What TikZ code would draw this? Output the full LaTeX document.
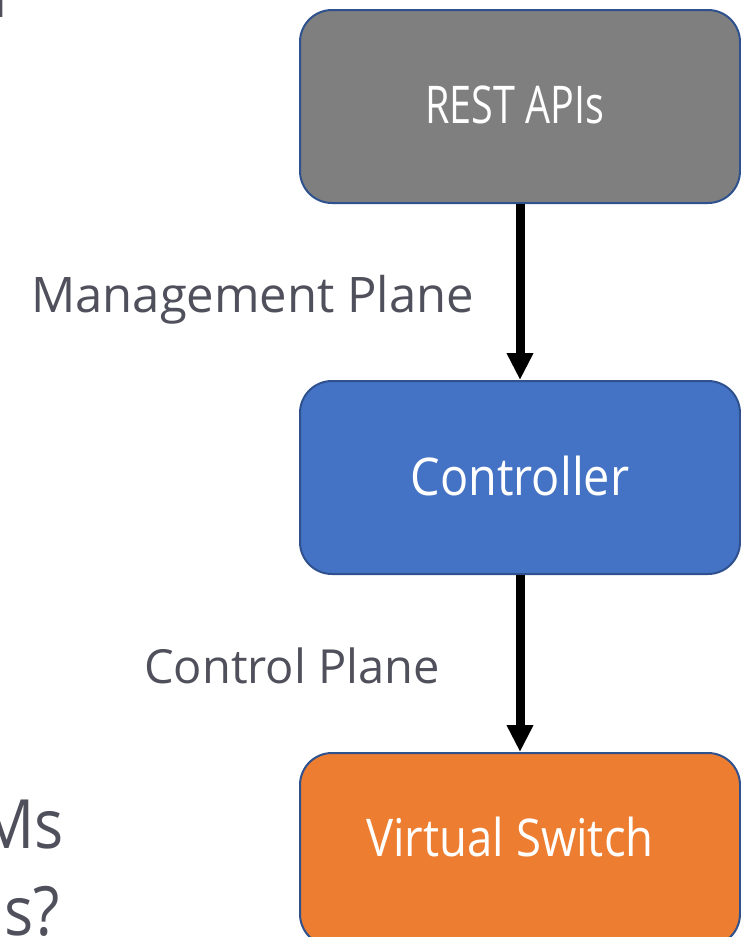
\documentclass[tikz,border=0pt]{standalone}
\usepackage{fontspec}
\setmainfont{Open Sans}
\usetikzlibrary{arrows.meta}

\definecolor{apigray}{HTML}{7F7F7F}
\definecolor{ctlblue}{HTML}{4472C4}
\definecolor{vsorange}{HTML}{ED7D31}
\definecolor{edgeblue}{HTML}{2F528F}
\definecolor{labelgray}{HTML}{50505C}

\newcommand{\narrow}[2]{\scalebox{#1}[1]{#2}}

\tikzset{
  planebox/.style={draw=edgeblue, line width=2pt, rounded corners=32pt,
    minimum width=440pt, minimum height=193pt, inner sep=0pt},
  boxtext/.style={text=white, inner sep=0pt, font=\fontsize{52}{60}\selectfont},
  planelabel/.style={text=labelgray, inner sep=0pt, anchor=base west,
    font=\fontsize{49}{56}\selectfont},
  slidetext/.style={text=labelgray, inner sep=0pt, anchor=base east,
    font=\fontsize{68}{80}\selectfont},
  flow/.style={line width=9pt, -{Triangle[width=25pt,length=27pt]}}
}

\begin{document}
\begin{tikzpicture}[x=1pt, y=-1pt]
  \useasboundingbox (0,0) rectangle (741,937);
  \clip (0,0) rectangle (741,937);

  % the three stacked planes
  \node[planebox, fill=apigray] (api) at (520,106.5) {};
  \node[planebox, fill=ctlblue] (ctl) at (520,477.5) {};
  \node[planebox, fill=vsorange] (vsw) at (520,849.5) {};

  \node[boxtext] (apitxt) at ([xshift=-5pt, yshift=2pt]api.center)
    {\narrow{0.76}{REST APIs}};
  \node[boxtext] (ctltxt) at ([yshift=2pt]ctl.center)
    {\narrow{0.9}{Controller}};
  \node[boxtext] (vswtxt) at ([xshift=-10pt, yshift=13pt]vsw.center)
    {\narrow{0.875}{Virtual Switch}};

  % connectors between the planes
  \draw[flow] (api.south) -- (ctl.north);
  \draw[flow] (ctl.south) -- (vsw.north);

  % plane names
  \node[planelabel] (mgmt) at (31,312) {Management Plane};
  \node[planelabel, font=\fontsize{47}{54}\selectfont] (ctrl) at (144,683) {Control Plane};

  % slide text running in from the left edge
  \node[slidetext] (topfrag) at (9,17) {a};
  \node[slidetext] (vms) at (64,848) {\narrow{0.9}{VMs}};
  \node[slidetext] (qfrag) at (60,935) {\narrow{0.9}{s?}};
\end{tikzpicture}
\end{document}
